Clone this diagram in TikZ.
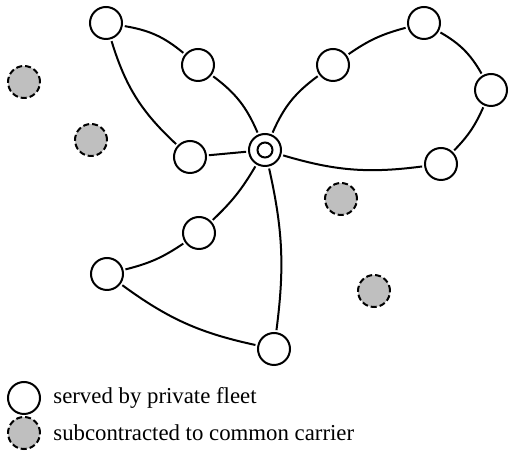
\documentclass[tikz,border=0pt]{standalone}
\usepackage{fontspec}
\setmainfont{Liberation Serif}

\begin{document}
\begin{tikzpicture}[x=0.5pt,y=-0.5pt,site/.style={circle,draw,line width=1pt,fill=white,minimum size=16pt,inner sep=0pt,outer sep=1.5pt},outsourced/.style={site,fill=black!25,dash pattern=on 3pt off 1.5pt},route/.style={line width=1pt},legendtext/.style={anchor=west,inner sep=0pt,font=\fontsize{11.4}{13}\selectfont}]
\useasboundingbox (0,0) rectangle (509,453);
\node[site] (depot) at (265,150) {};
\node[site,minimum size=7.5pt,outer sep=0pt] (depotin) at (265,150) {};
\node[site] (a1) at (106,23) {};
\node[site] (a2) at (198,65) {};
\node[site] (a3) at (190,157) {};
\node[site] (b1) at (333,65) {};
\node[site] (b2) at (424,23) {};
\node[site] (b3) at (491,90) {};
\node[site] (b4) at (441,164) {};
\node[site] (c1) at (199,233) {};
\node[site] (c2) at (107,274) {};
\node[site] (c3) at (274,349) {};
\node[outsourced] (g1) at (24,82) {};
\node[outsourced] (g2) at (91,140) {};
\node[outsourced] (g3) at (341,199) {};
\node[outsourced] (g4) at (374,291) {};
\draw[route] (depot) to[bend right=15] (a2);
\draw[route] (a1) to[bend left=15] (a2);
\draw[route] (a1) to[bend right=15] (a3);
\draw[route] (a3) -- (depot);
\draw[route] (depot) to[bend left=15] (b1);
\draw[route] (b1) to[bend left=10] (b2);
\draw[route] (b2) to[bend left=15] (b3);
\draw[route] (b3) to[bend left=10] (b4);
\draw[route] (depot) to[bend right=12] (b4);
\draw[route] (depot) to[bend left=8] (c1);
\draw[route] (c1) to[bend left=10] (c2);
\draw[route] (c2) to[bend right=12] (c3);
\draw[route] (depot) to[bend left=10] (c3);
\node[site] (keyfleet) at (24,398) {};
\node[legendtext] (fleettext) at (53,398) {served by private fleet};
\node[outsourced] (keycarrier) at (24,433) {};
\node[legendtext] (carriertext) at (53,433) {subcontracted to common carrier};
\end{tikzpicture}
\end{document}
